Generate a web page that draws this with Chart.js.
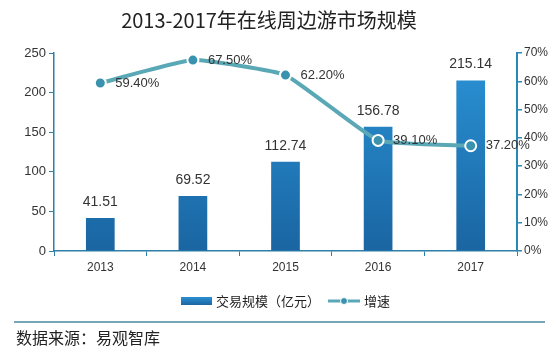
<!DOCTYPE html>
<html><head><meta charset="utf-8">
<script src="https://cdn.jsdelivr.net/npm/chart.js@4"></script>
<style>html,body{margin:0;padding:0;background:#fff;}#wrap{width:557px;height:356px;position:relative;}</style>
</head><body><div id="wrap"><canvas id="c" width="557" height="356"></canvas></div>
<script>
const categories = ['2013','2014','2015','2016','2017'];
const scaleValues = [41.51, 69.52, 112.74, 156.78, 215.14];
const growthValues = [59.4, 67.5, 62.2, 39.1, 37.2];
const leftTicks = [0,50,100,150,200,250];
const rightTicks = [0,10,20,30,40,50,60,70];
const titleText = '2013-2017年在线周边游市场规模';
const barLabel = '交易规模（亿元）';
const lineLabel = '增速';
const sourceText = '数据来源：易观智库';

const FONT = '"Liberation Sans", "Noto Sans CJK SC", sans-serif';
const CJK = '"Noto Sans CJK SC", sans-serif';
const axisColor = '#2f7fa8';
const lineColor = '#5aa8b6';
const pointColor = '#3a93ae';

const decor = {
  id: 'decor',
  afterDatasetsDraw(chart) {
    const ctx = chart.ctx;
    ctx.save();
    const bm = chart.getDatasetMeta(0);
    ctx.fillStyle = '#333';
    ctx.font = '14px ' + FONT;
    ctx.textAlign = 'center';
    ctx.textBaseline = 'middle';
    bm.data.forEach((el, i) => {
      ctx.fillText(scaleValues[i].toFixed(2), el.x, el.y - 16);
    });
    const lm = chart.getDatasetMeta(1);
    ctx.font = '13px ' + FONT;
    ctx.textAlign = 'left';
    lm.data.forEach((el, i) => {
      ctx.fillText(growthValues[i].toFixed(2) + '%', el.x + 15, el.y);
    });
    ctx.restore();
  },
  afterDraw(chart) {
    const ctx = chart.ctx;
    ctx.save();
    ctx.fillStyle = '#222';
    ctx.font = '20px ' + CJK;
    ctx.textAlign = 'center';
    ctx.textBaseline = 'middle';
    ctx.fillText(titleText, 269, 20);
    const ly = 301;
    const g = ctx.createLinearGradient(0, ly - 4, 0, ly + 4);
    g.addColorStop(0, '#2b8fd2');
    g.addColorStop(1, '#1b66a3');
    ctx.fillStyle = g;
    ctx.fillRect(181, ly - 4, 31, 8);
    ctx.fillStyle = '#222';
    ctx.font = '13px ' + CJK;
    ctx.textAlign = 'left';
    ctx.fillText(barLabel, 216, ly);
    ctx.strokeStyle = lineColor;
    ctx.lineWidth = 3;
    ctx.beginPath(); ctx.moveTo(328, ly); ctx.lineTo(360, ly); ctx.stroke();
    ctx.fillStyle = pointColor;
    ctx.strokeStyle = '#fff';
    ctx.lineWidth = 1;
    ctx.beginPath(); ctx.arc(344, ly, 3.5, 0, Math.PI * 2); ctx.fill(); ctx.stroke();
    ctx.fillStyle = '#222';
    ctx.fillText(lineLabel, 364, ly);
    ctx.strokeStyle = '#4a8a9e';
    ctx.lineWidth = 1.5;
    ctx.beginPath(); ctx.moveTo(14, 322); ctx.lineTo(545, 322); ctx.stroke();
    ctx.fillStyle = '#222';
    ctx.font = '16px ' + CJK;
    ctx.fillText(sourceText, 16, 338);
    ctx.restore();
  }
};

new Chart(document.getElementById('c'), {
  data: {
    labels: categories,
    datasets: [
      {
        type: 'bar',
        label: barLabel,
        data: scaleValues,
        yAxisID: 'y',
        order: 2,
        barPercentage: 0.31,
        categoryPercentage: 1,
        backgroundColor: (c) => {
          const a = c.chart.chartArea;
          if (!a) return '#2380c0';
          const g = c.chart.ctx.createLinearGradient(0, a.top, 0, a.bottom);
          g.addColorStop(0, '#2a93d6');
          g.addColorStop(1, '#1a65a2');
          return g;
        }
      },
      {
        type: 'line',
        label: lineLabel,
        data: growthValues,
        yAxisID: 'y1',
        order: 1,
        borderColor: lineColor,
        borderWidth: 4,
        tension: 0.12,
        pointRadius: 5.5,
        pointBackgroundColor: pointColor,
        pointBorderColor: '#fff',
        pointBorderWidth: 2
      }
    ]
  },
  options: {
    responsive: false,
    animation: false,
    layout: { padding: { top: 53, left: 0, right: 0, bottom: 0 } },
    plugins: { legend: { display: false }, title: { display: false }, tooltip: { enabled: false } },
    scales: {
      x: {
        afterFit: (s) => { s.height = 105; },
        grid: { offset: true, drawOnChartArea: false, tickLength: 5, color: axisColor },
        border: { color: axisColor, width: 1.5 },
        ticks: { color: '#333', font: { family: FONT, size: 12 }, padding: 4 }
      },
      y: {
        position: 'left',
        min: 0, max: 250,
        afterFit: (s) => { s.width = 54; },
        afterBuildTicks: (s) => { s.ticks = leftTicks.map(v => ({ value: v })); },
        grid: { drawOnChartArea: false, tickLength: 5, color: axisColor },
        border: { color: axisColor, width: 1.5 },
        ticks: { color: '#333', font: { family: FONT, size: 13 }, padding: 3 }
      },
      y1: {
        position: 'right',
        min: 0, max: 70,
        afterFit: (s) => { s.width = 40; },
        afterBuildTicks: (s) => { s.ticks = rightTicks.map(v => ({ value: v })); },
        grid: { drawOnChartArea: false, tickLength: 5, color: '#2b87b5', lineWidth: 1.5 },
        border: { color: '#2b87b5', width: 2 },
        ticks: { color: '#333', font: { family: FONT, size: 12 }, padding: 2, callback: (v) => v + '%' }
      }
    }
  },
  plugins: [decor]
});
</script></body></html>
